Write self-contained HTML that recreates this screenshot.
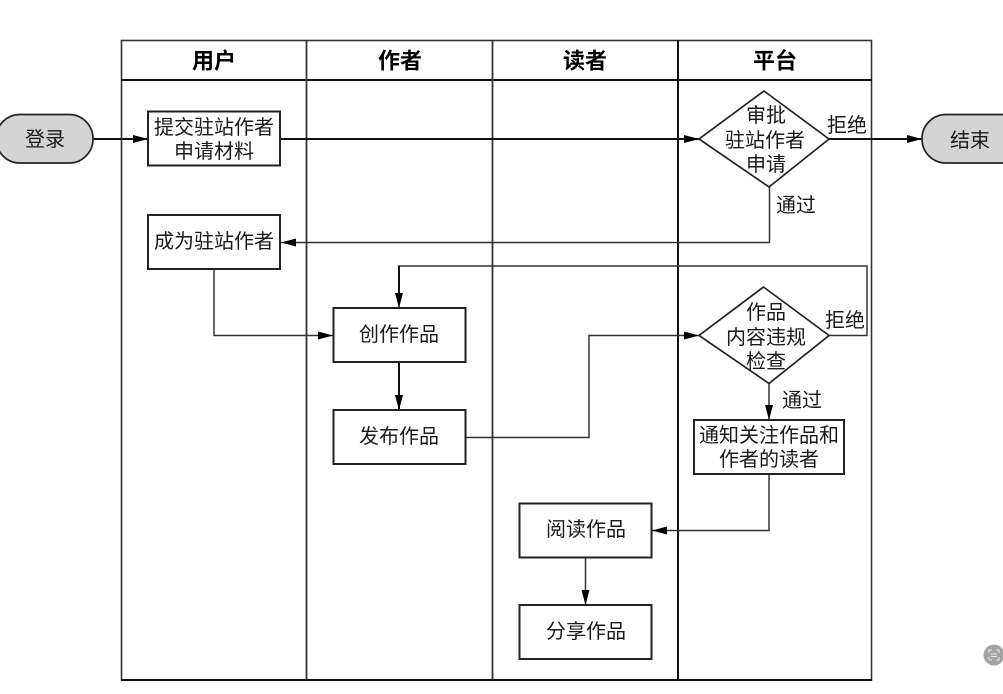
<!DOCTYPE html>
<html lang="zh">
<head>
<meta charset="utf-8">
<style>
html,body{margin:0;padding:0;background:#fff;width:1003px;height:694px;overflow:hidden}
svg{display:block}
text{font-family:"Liberation Sans","Noto Sans CJK SC","WenQuanYi Zen Hei",sans-serif;font-size:20px;fill:#1a1a1a;text-anchor:middle}
.h{font-size:22px;font-weight:700;fill:#000}
.b{fill:#fff;stroke:#222;stroke-width:2}
.l{fill:none;stroke:#333;stroke-width:1.5}
.k{fill:none;stroke:#111;stroke-width:2}
.a{fill:#000;stroke:none}
.t{fill:#d4d4d4;stroke:#222;stroke-width:1.7}
</style>
</head>
<body>
<svg width="1003" height="694" viewBox="0 0 1003 694" xmlns="http://www.w3.org/2000/svg">
<!-- swimlanes -->
<rect x="121.5" y="40.5" width="750" height="639.5" fill="#fff" stroke="#333" stroke-width="1.6"/>
<path d="M121 80H872" class="k"/>
<path d="M306.5 40V680" stroke="#333" stroke-width="1.8" fill="none"/>
<path d="M492.5 40V680" stroke="#333" stroke-width="1.8" fill="none"/>
<path d="M678 40V680" class="k"/>
<path d="M121 680H872" class="k"/>
<text class="h" x="214" y="68.500">用户</text>
<text class="h" x="400" y="68.500">作者</text>
<text class="h" x="585" y="68.500">读者</text>
<text class="h" x="775" y="68.500">平台</text>

<!-- connectors -->
<path d="M93 139H148" class="k"/><path d="M133 135L148 139L133 143Z" class="a"/>
<path d="M280 139H699" class="k"/><path d="M684 135L699 139L684 143Z" class="a"/>
<path d="M829 139H922" class="k"/><path d="M907 135L922 139L907 143Z" class="a"/>
<path d="M769.5 187V242.500H281" class="l"/><path d="M296 238.500L281 242.500L296 246.500Z" class="a"/>
<path d="M214 269V335.500H333" class="l"/><path d="M318 331.500L333 335.500L318 339.500Z" class="a"/>
<path d="M829 335.500H867V266H399V308" class="l"/><path d="M399 266V296" class="k"/><path d="M395 293L399 308L403 293Z" class="a"/>
<path d="M399 362V410" class="k"/><path d="M395 395L399 410L403 395Z" class="a"/>
<path d="M465 437.500H589V335.500H699" class="l"/><path d="M684 331.500L699 335.500L684 339.500Z" class="a"/>
<path d="M769 383V420" class="l"/><path d="M765 405L769 420L773 405Z" class="a"/>
<path d="M769 474V530.500H652" class="l"/><path d="M667 526.500L652 530.500L667 534.500Z" class="a"/>
<path d="M585.500 558V605" class="l"/><path d="M581.500 590L585.500 605L589.500 590Z" class="a"/>

<!-- terminators -->
<rect x="-4" y="114.500" width="97" height="48.500" rx="24" class="t"/>
<text x="45" y="146">登录</text>
<rect x="922" y="114.500" width="110" height="48.500" rx="24" class="t"/>
<text x="970" y="147">结束</text>

<!-- boxes -->
<rect x="148" y="111.500" width="132" height="54" class="b"/>
<text x="214" y="134">提交驻站作者</text>
<text x="214" y="158">申请材料</text>
<rect x="148" y="215" width="132" height="54" class="b"/>
<text x="214" y="248">成为驻站作者</text>
<rect x="333.500" y="308" width="132" height="54" class="b"/>
<text x="399" y="341">创作作品</text>
<rect x="333.500" y="410" width="132" height="54" class="b"/>
<text x="399" y="443">发布作品</text>
<rect x="519.500" y="503.500" width="132" height="54" class="b"/>
<text x="586" y="536">阅读作品</text>
<rect x="519.500" y="605" width="132" height="54" class="b"/>
<text x="586" y="638">分享作品</text>
<rect x="694" y="420" width="150" height="54" class="b"/>
<text x="769" y="442">通知关注作品和</text>
<text x="769" y="466">作者的读者</text>

<!-- diamonds -->
<path d="M764 91L829 139L769 187L699 139Z" fill="#fff" stroke="#222" stroke-width="1.7"/>
<text x="766" y="122">审批</text>
<text x="765" y="147">驻站作者</text>
<text x="766" y="171">申请</text>
<path d="M763.500 287L829 335.500L769 383.500L699 335.500Z" fill="#fff" stroke="#222" stroke-width="1.7"/>
<text x="766" y="319">作品</text>
<text x="766" y="344">内容违规</text>
<text x="766" y="368">检查</text>

<!-- labels -->
<text x="847" y="132">拒绝</text>
<text x="796" y="212">通过</text>
<text x="845" y="327">拒绝</text>
<text x="802" y="407">通过</text>

<!-- corner badge -->
<circle cx="994" cy="655" r="10.500" fill="#a3a3a3"/>
<path d="M989 653V650H992M996 650H999V653M989 657V660H992M996 660H999V657" fill="none" stroke="#e8e8e8" stroke-width="1"/>
<path d="M991 654H997M991 656.500H997" stroke="#e8e8e8" stroke-width="1"/>
</svg>
</body>
</html>
